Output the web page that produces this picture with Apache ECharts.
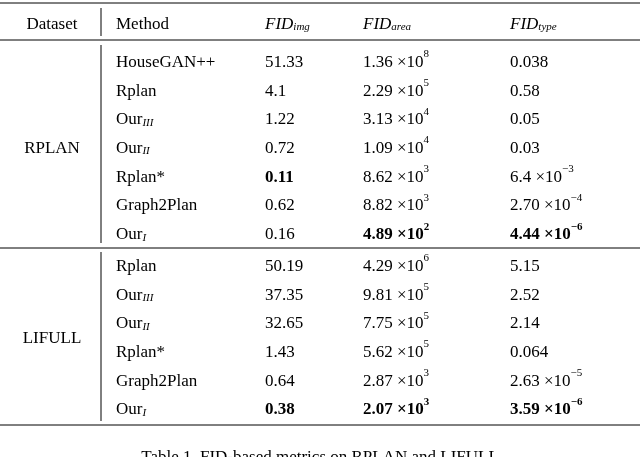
<!DOCTYPE html>
<html><head><meta charset="utf-8">
<script src="https://cdn.jsdelivr.net/npm/echarts@6/dist/echarts.min.js"></script>
<style>html,body{margin:0;background:#fff}#c{width:640px;height:457px}</style>
</head><body><div id="c"></div>
<script>
const datasets = ['RPLAN', 'LIFULL'];
const methods = [
  ['HouseGAN++','Rplan','Our|III','Our|II','Rplan*','Graph2Plan','Our|I'],
  ['Rplan','Our|III','Our|II','Rplan*','Graph2Plan','Our|I']
];
const fidImg = [[51.33,4.1,1.22,0.72,0.11,0.62,0.16],[50.19,37.35,32.65,1.43,0.64,0.38]];
const areaMant = [['1.36','2.29','3.13','1.09','8.62','8.82','4.89'],['4.29','9.81','7.75','5.62','2.87','2.07']];
const areaExp = [[8,5,4,4,3,3,2],[6,5,5,5,3,3]];
const typeMant = [['0.038','0.58','0.05','0.03','6.4','2.70','4.44'],['5.15','2.52','2.14','0.064','2.63','3.59']];
const typeExp = [[null,null,null,null,-3,-4,-6],[null,null,null,null,-5,-6]];
const boldImg = [[4],[5]], boldArea = [[6],[5]], boldType = [[6],[5]];
const caption = 'Table 1. FID-based metrics on RPLAN and LIFULL';

const F = 'Liberation Serif';
const rich = {
  n:{fontFamily:F,fontSize:17,lineHeight:22,verticalAlign:'bottom',color:'#000'},
  b:{fontFamily:F,fontSize:17,fontWeight:'bold',lineHeight:22,verticalAlign:'bottom',color:'#000'},
  s:{fontFamily:F,fontSize:11,lineHeight:12,verticalAlign:'top',color:'#000'},
  sb:{fontFamily:F,fontSize:11,fontWeight:'bold',lineHeight:12,verticalAlign:'top',color:'#000'},
  i:{fontFamily:F,fontSize:17,fontStyle:'italic',lineHeight:22,verticalAlign:'bottom',color:'#000'},
  u:{fontFamily:F,fontSize:11,fontStyle:'italic',lineHeight:10,verticalAlign:'bottom',color:'#000'}
};
function sci(m,e,bold){
  const k=bold?'b':'n', ks=bold?'sb':'s';
  if(e===null) return `{${k}|${m}}`;
  return `{${k}|${m} ×10}{${ks}|${e<0?'−'+(-e):e}}`;
}
function meth(s){
  const p=s.split('|'); return p.length>1?`{n|${p[0]}}{u|${p[1]}}`:`{n|${s}}`;
}
const els=[];
function txt(x,y,t,align){els.push({type:'text',left:x,top:y,style:{text:t,rich:rich,textAlign:align||'left',textVerticalAlign:'middle'}});}
function txtC(x,y,t){els.push({type:'text',x:x,y:y,style:{text:t,rich:rich,align:'center',verticalAlign:'middle'}});}
function txtL(x,y,t){els.push({type:'text',x:x,y:y,style:{text:t,rich:rich,align:'left',verticalAlign:'middle'}});}
function line(x1,y1,x2,y2){els.push({type:'line',shape:{x1,y1,x2,y2},style:{stroke:'#000',lineWidth:1}});}
const colX=[52,116,265,363,510];
line(0,3,640,3);
txtC(colX[0],22,'{n|Dataset}');
txtL(colX[1],22,'{n|Method}');
txtL(colX[2],22,'{i|FID}{u|img}');
txtL(colX[3],22,'{i|FID}{u|area}');
txtL(colX[4],22,'{i|FID}{u|type}');
line(0,40,640,40);
const starts=[60,264], step=28.7;
datasets.forEach((d,di)=>{
  const n=methods[di].length;
  methods[di].forEach((m,r)=>{
    const y=starts[di]+r*step;
    txtL(colX[1],y,meth(m));
    const bi=boldImg[di].includes(r);
    txtL(colX[2],y,`{${bi?'b':'n'}|${fidImg[di][r]}}`);
    txtL(colX[3],y,sci(areaMant[di][r],areaExp[di][r],boldArea[di].includes(r)));
    txtL(colX[4],y,sci(typeMant[di][r],typeExp[di][r],boldType[di].includes(r)));
  });
  txtC(colX[0],starts[di]+(n-1)*step/2,'{n|'+d+'}');
});
line(0,248,640,248);
line(0,425,640,425);
line(101,8,101,36);
line(101,45,101,243);
line(101,252,101,421);
txtC(320,455,'{n|'+caption+'}');
const chart=echarts.init(document.getElementById('c'));
chart.setOption({graphic:{elements:els}});
</script></body></html>
